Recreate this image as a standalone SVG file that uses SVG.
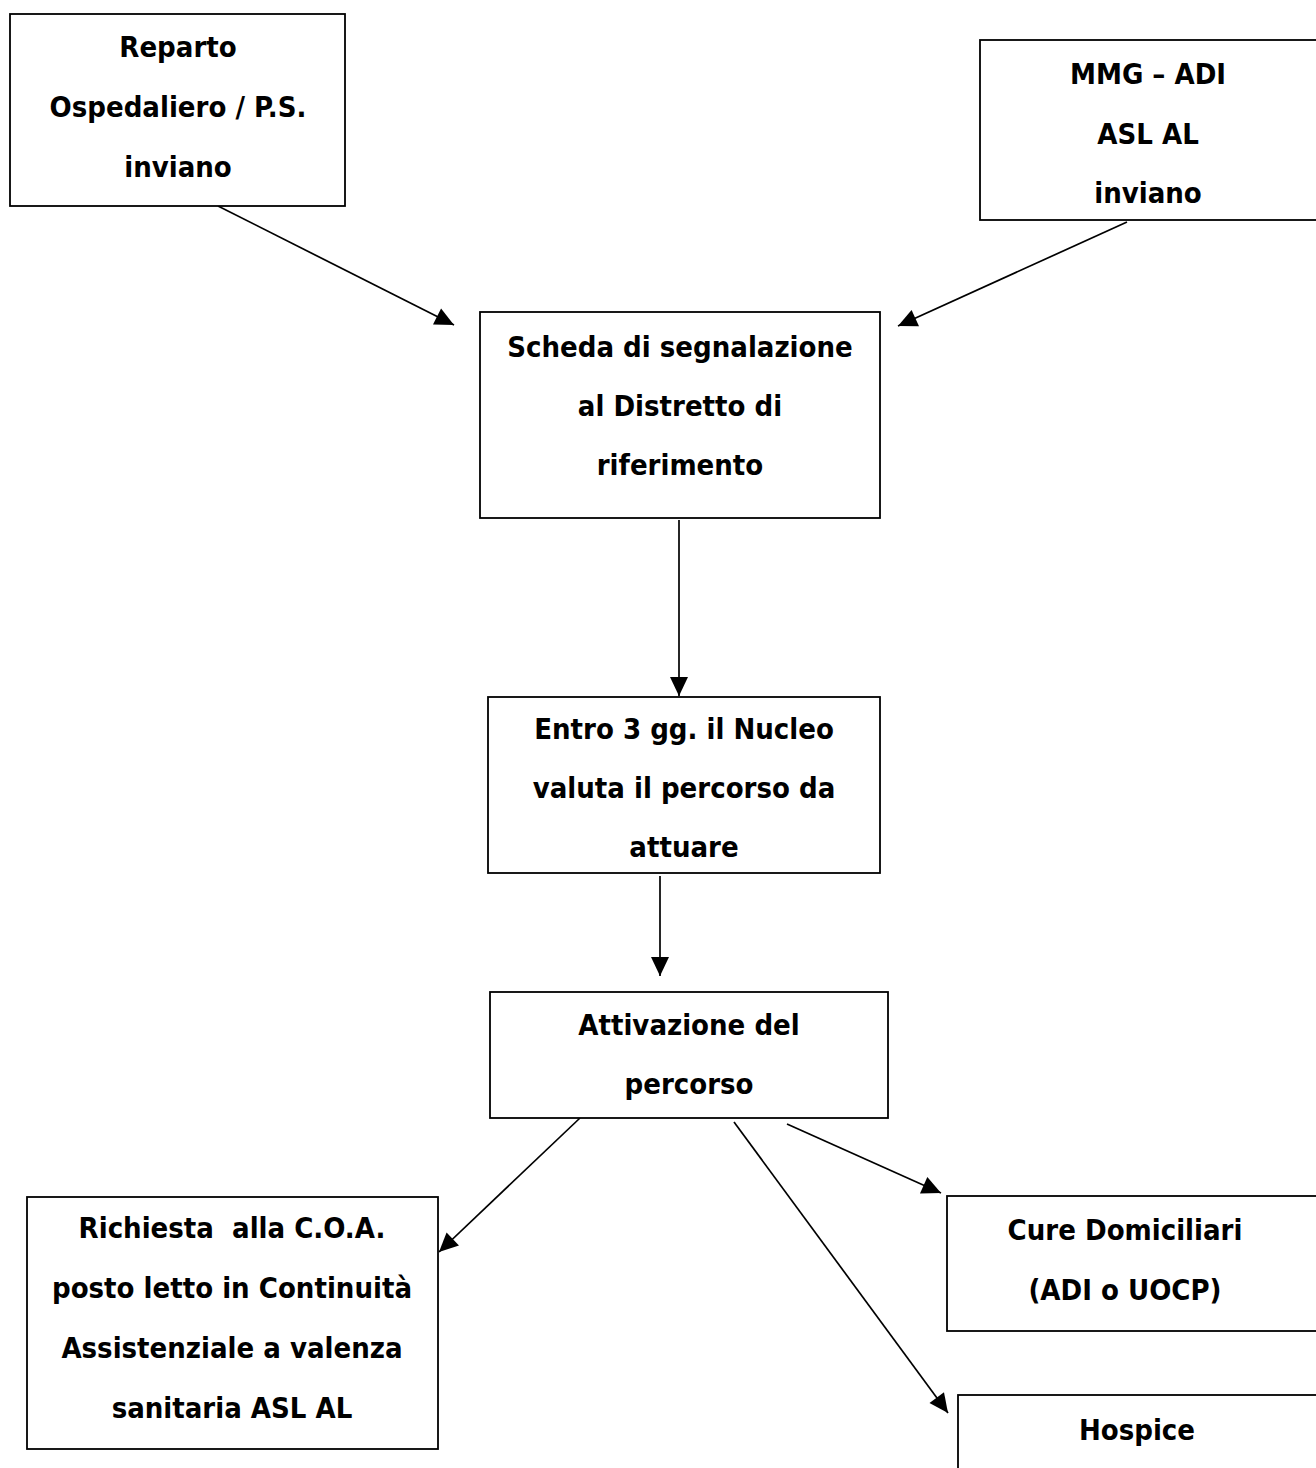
<svg xmlns="http://www.w3.org/2000/svg" width="1316" height="1468" viewBox="0 0 1316 1468">
<style>
.box{fill:#fff;stroke:#000;stroke-width:1.8}
.t{font-family:"DejaVu Sans","Liberation Sans",sans-serif;font-weight:bold;font-stretch:condensed;font-size:29px;text-anchor:middle;fill:#000}
.c{stroke:#000;stroke-width:1.7;fill:none;marker-end:url(#ah)}
</style>
<defs>
<marker id="ah" markerUnits="userSpaceOnUse" markerWidth="22" markerHeight="20" refX="19" refY="9" orient="auto" overflow="visible">
<path d="M0,0 L19,9 L0,18 z" fill="#000"/>
</marker>
</defs>
<rect width="1316" height="1468" fill="#fff"/>
<g id="connectors">
<line class="c" x1="218" y1="206" x2="454" y2="325"/>
<line class="c" x1="1127" y1="222" x2="898" y2="326"/>
<line class="c" x1="679" y1="520" x2="679" y2="696"/>
<line class="c" x1="660" y1="876" x2="660" y2="976"/>
<line class="c" x1="580" y1="1118" x2="439" y2="1252"/>
<line class="c" x1="734" y1="1122" x2="948" y2="1413"/>
<line class="c" x1="787" y1="1124" x2="941" y2="1193"/>
</g>
<g id="n1">
<rect class="box" x="10" y="14" width="335" height="192"/>
<text class="t" x="178" y="57">Reparto</text>
<text class="t" x="178" y="117">Ospedaliero / P.S.</text>
<text class="t" x="178" y="177">inviano</text>
</g>
<g id="n2">
<rect class="box" x="980" y="40" width="345" height="180"/>
<text class="t" x="1148" y="84">MMG – ADI</text>
<text class="t" x="1148" y="144">ASL AL</text>
<text class="t" x="1148" y="203">inviano</text>
</g>
<g id="n3">
<rect class="box" x="480" y="312" width="400" height="206"/>
<text class="t" x="680" y="357">Scheda di segnalazione</text>
<text class="t" x="680" y="416">al Distretto di</text>
<text class="t" x="680" y="475">riferimento</text>
</g>
<g id="n4">
<rect class="box" x="488" y="697" width="392" height="176"/>
<text class="t" x="684" y="739">Entro 3 gg. il Nucleo</text>
<text class="t" x="684" y="798">valuta il percorso da</text>
<text class="t" x="684" y="857">attuare</text>
</g>
<g id="n5">
<rect class="box" x="490" y="992" width="398" height="126"/>
<text class="t" x="689" y="1035">Attivazione del</text>
<text class="t" x="689" y="1094">percorso</text>
</g>
<g id="n6">
<rect class="box" x="27" y="1197" width="411" height="252"/>
<text class="t" x="232" y="1238" xml:space="preserve">Richiesta  alla C.O.A.</text>
<text class="t" x="232" y="1298">posto letto in Continuità</text>
<text class="t" x="232" y="1358">Assistenziale a valenza</text>
<text class="t" x="232" y="1418">sanitaria ASL AL</text>
</g>
<g id="n7">
<rect class="box" x="947" y="1196" width="380" height="135"/>
<text class="t" x="1125" y="1240">Cure Domiciliari</text>
<text class="t" x="1125" y="1300">(ADI o UOCP)</text>
</g>
<g id="n8">
<rect class="box" x="958" y="1395" width="370" height="90"/>
<text class="t" x="1137" y="1440">Hospice</text>
</g>
</svg>
